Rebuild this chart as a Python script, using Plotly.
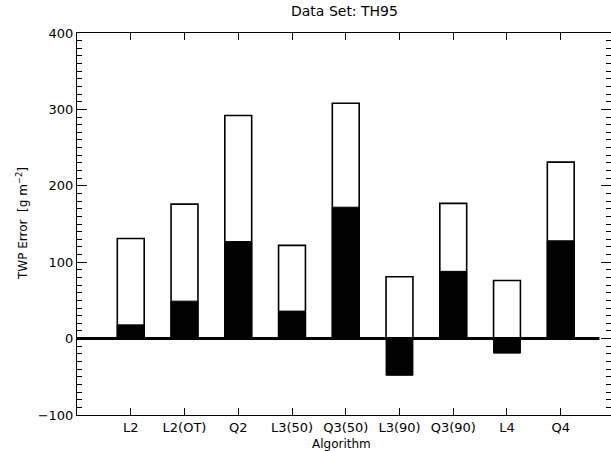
import plotly.graph_objects as go

categories = ["L2", "L2(OT)", "Q2", "L3(50)", "Q3(50)", "L3(90)", "Q3(90)", "L4", "Q4"]
total_error = [131, 176, 292, 122, 308, 81, 177, 76, 231]
bias_error = [18, 49, 127, 36, 172, -48, 88, -19, 128]
positions = list(range(1, len(categories) + 1))

FONT = "DejaVu Sans"

fig = go.Figure()
fig.add_trace(go.Bar(
    x=positions, y=total_error, width=0.5,
    marker=dict(color="white", line=dict(color="black", width=1.6)),
    showlegend=False,
))
fig.add_trace(go.Bar(
    x=positions, y=bias_error, width=0.5,
    marker=dict(color="black", line=dict(color="black", width=1)),
    showlegend=False,
))

fig.add_shape(type="line", xref="x", yref="y", x0=0, x1=9.72, y0=0, y1=0,
              line=dict(color="black", width=3), layer="above")

fig.update_layout(
    width=611, height=451,
    margin=dict(l=77, r=0, t=33, b=36),
    paper_bgcolor="white", plot_bgcolor="white",
    barmode="overlay",
    font=dict(family=FONT, color="black", size=12),
    xaxis=dict(
        range=[0, 9.935], tickmode="array", tickvals=positions, ticktext=categories,
        ticks="inside", ticklen=7, tickwidth=1, tickcolor="black",
        showline=True, linecolor="black", linewidth=1, mirror="allticks",
        showgrid=False, zeroline=False, tickfont=dict(size=13, family=FONT, color="black"),
    ),
    yaxis=dict(
        range=[-100, 400], tickmode="linear", tick0=0, dtick=100,
        ticks="inside", ticklen=10, tickwidth=1, tickcolor="black",
        minor=dict(dtick=10, ticks="inside", ticklen=5, tickcolor="black", tickwidth=1),
        showline=True, linecolor="black", linewidth=1, mirror="allticks",
        showgrid=False, zeroline=False, tickfont=dict(size=13, family=FONT, color="black"),
        tickformat="d",
    ),
    annotations=[
        dict(text="Data Set: TH95", xref="paper", yref="paper", x=0.5, y=1,
             yshift=22, showarrow=False, font=dict(size=14, family=FONT, color="black"),
             yanchor="middle"),
        dict(text="Algorithm", xref="paper", yref="paper", x=0.495, y=0,
             yshift=-29, showarrow=False, font=dict(size=12, family=FONT, color="black"),
             yanchor="middle"),
        dict(text="TWP Error  [g m<sup>−2</sup>]", xref="paper", yref="paper", x=0,
             xshift=-55, y=0.5, textangle=-90, showarrow=False,
             font=dict(size=12, family=FONT, color="black"), xanchor="center"),
    ],
)

fig.write_html("out.html")
